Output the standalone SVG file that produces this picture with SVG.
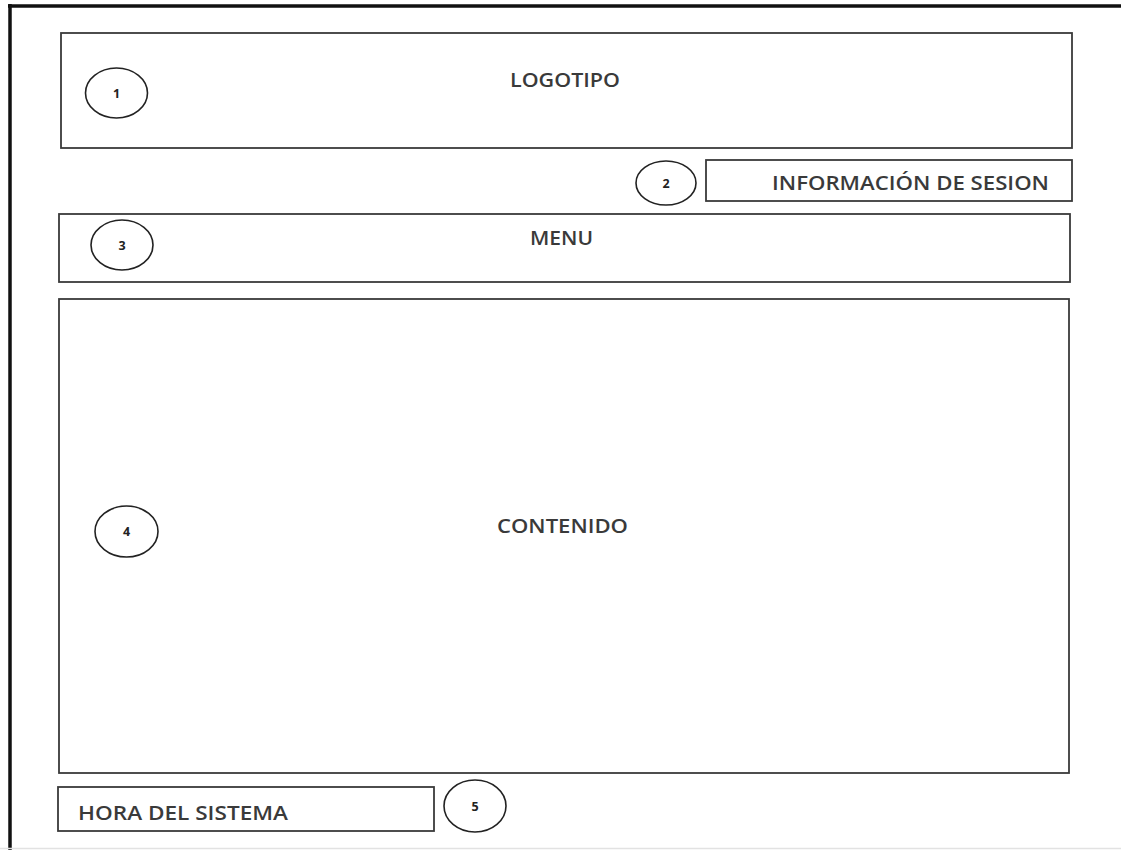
<svg xmlns="http://www.w3.org/2000/svg" width="1121" height="850" viewBox="0 0 1121 850">
<style>
.box{fill:#fff;stroke:#3a3a3a;stroke-width:1.8}
.num{fill:none;stroke:#222;stroke-width:1.6}
.lbl{font-family:"Open Sans","Liberation Sans",sans-serif;font-size:19.5px;font-weight:600;fill:#3a3a3a}
.n{font-family:"Open Sans","Liberation Sans",sans-serif;font-size:12.5px;font-weight:bold;fill:#222;text-anchor:middle}
.frame{stroke:#111;stroke-width:3.5;fill:none}
</style>
<rect width="1121" height="850" fill="#fff"/>
<g id="frame">
<line class="frame" x1="8" y1="6" x2="1121" y2="6"/>
<line class="frame" x1="10" y1="4" x2="10" y2="850"/>
<line x1="0" y1="848.5" x2="1121" y2="848.5" stroke="#e2e2e2" stroke-width="1.5"/>
</g>
<g id="logotipo">
<rect class="box" x="61" y="33" width="1011" height="115"/>
<ellipse class="num" cx="116.5" cy="93" rx="31" ry="25"/>
<text class="n" x="116.5" y="97.5">1</text>
<text class="lbl" x="510" y="87" textLength="110" lengthAdjust="spacingAndGlyphs">LOGOTIPO</text>
</g>
<g id="sesion">
<rect class="box" x="706" y="160" width="366" height="41"/>
<ellipse class="num" cx="666" cy="183" rx="30" ry="22"/>
<text class="n" x="666" y="187.5">2</text>
<text class="lbl" x="772" y="190" textLength="277" lengthAdjust="spacingAndGlyphs">INFORMACIÓN DE SESION</text>
</g>
<g id="menu">
<rect class="box" x="59" y="214" width="1011" height="68"/>
<ellipse class="num" cx="122" cy="245" rx="31" ry="25"/>
<text class="n" x="122" y="249.5">3</text>
<text class="lbl" x="530" y="245" textLength="63" lengthAdjust="spacingAndGlyphs">MENU</text>
</g>
<g id="contenido">
<rect class="box" x="59" y="299" width="1010" height="474"/>
<ellipse class="num" cx="126.5" cy="531.5" rx="31.5" ry="25.5"/>
<text class="n" x="126.5" y="536">4</text>
<text class="lbl" x="497" y="533" textLength="131" lengthAdjust="spacingAndGlyphs">CONTENIDO</text>
</g>
<g id="hora">
<rect class="box" x="58" y="787" width="376" height="44"/>
<ellipse class="num" cx="475" cy="806" rx="31" ry="26"/>
<text class="n" x="475" y="810.5">5</text>
<text class="lbl" x="78" y="820" textLength="210" lengthAdjust="spacingAndGlyphs">HORA DEL SISTEMA</text>
</g>
<g id="connectors"/>
</svg>
